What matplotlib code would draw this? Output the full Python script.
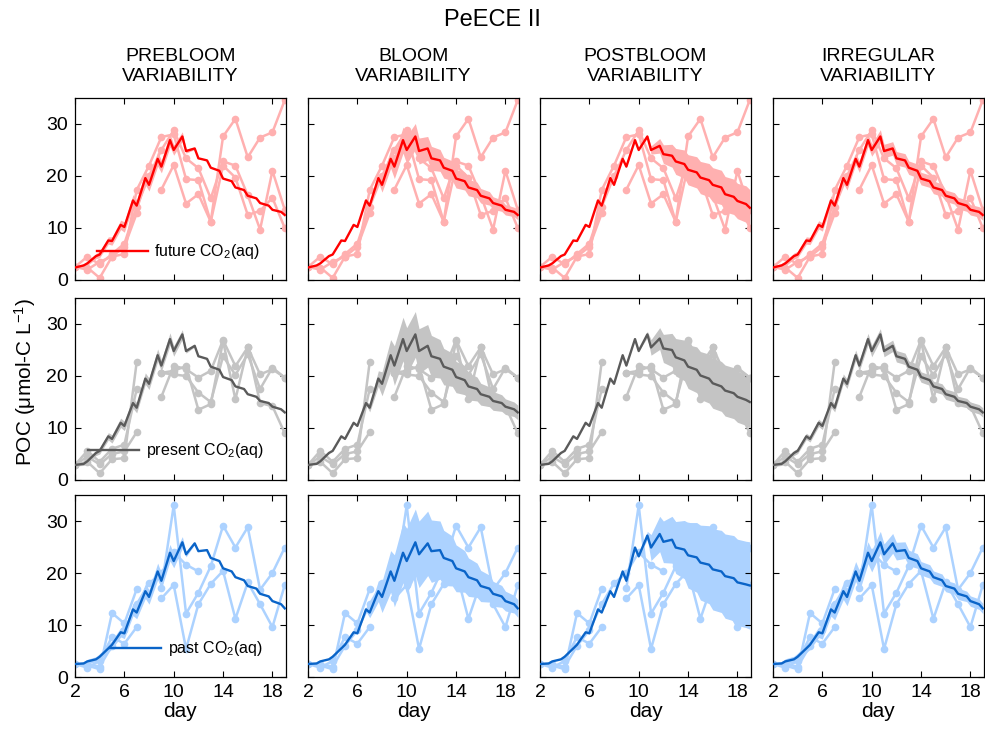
import numpy as np
import matplotlib.pyplot as plt

plt.rcParams['font.family'] = ['Liberation Sans', 'DejaVu Sans']
plt.rcParams['mathtext.fontset'] = 'custom'
plt.rcParams['mathtext.rm'] = 'Liberation Sans'
plt.rcParams['mathtext.it'] = 'Liberation Sans'

nan = np.nan

columns = ['PREBLOOM\nVARIABILITY', 'BLOOM\nVARIABILITY',
           'POSTBLOOM\nVARIABILITY', 'IRREGULAR\nVARIABILITY']
scenarios = ['future', 'present', 'past']

# measured POC, one list per mesocosm, days 2..19
obs_days = [2, 3, 4, 5, 6, 7, 8, 9, 10, 11, 12, 13, 14, 15, 16, 17, 18, 19]
future_obs = [
    [2.5, 2.4, 0.4, 4.5, 6.4, 12.8, nan, 17.4, 22.1, 14.7, 16.5, 11.2, 27.6, 31.0, 23.6, 27.4, 28.4, 34.6],
    [2.5, 4.5, 3.0, 5.0, 7.0, 14.1, 20.0, 25.0, 28.8, 23.4, 21.5, 15.7, 22.8, 22.0, 16.3, 9.7, 21.0, 13.5],
    [2.5, 2.0, 3.5, 4.5, 5.0, 17.3, 22.0, 27.5, 28.0, 19.4, 19.2, 11.2, 22.0, 19.7, 12.5, 13.3, 15.8, 10.0],
]
present_obs = [
    [2.9, 5.6, 3.5, 6.0, 6.8, 17.5, nan, 16.0, 22.0, 21.3, 19.7, 21.0, 26.9, 21.9, 25.5, 20.3, 21.3, 19.7],
    [2.9, 3.5, 1.3, 4.0, 4.2, 22.7, nan, 20.6, 20.3, 20.0, 16.8, 15.0, 23.8, 20.2, 24.2, 17.5, 21.6, 19.7],
    [2.9, 4.5, 3.0, 5.0, 5.5, 9.2, nan, 20.6, 21.0, 21.9, 13.5, 14.6, 26.7, 15.5, 25.5, 14.8, 14.2, 9.0],
]
past_obs = [
    [2.5, 2.2, 1.5, 12.3, 10.3, 16.9, nan, 17.1, 33.0, 12.2, 16.2, 21.3, 29.1, 24.9, 28.8, 16.8, 20.0, 24.9],
    [2.5, 1.8, 3.1, 7.7, 6.4, 9.6, nan, 15.1, 17.7, 5.4, 14.0, 17.9, 20.4, 11.2, 18.2, 14.0, 9.6, 17.7],
    [2.5, 2.5, 2.0, 6.0, 9.0, 14.0, 18.0, 20.0, 24.0, 21.6, 20.3, nan, nan, nan, nan, nan, nan, nan],
]

# model output: night minimum (day) and afternoon maximum (day + 0.7)
model_days = [2, 2.7, 3, 3.7, 4, 4.7, 5, 5.7, 6, 6.7, 7, 7.7, 8, 8.7, 9, 9.7, 10, 10.7,
              11, 11.7, 12, 12.7, 13, 13.7, 14, 14.7, 15, 15.7, 16, 16.7, 17, 17.7, 18, 18.7, 19]

future_model = [2.4, 2.8, 3.2, 4.6, 4.9, 7.6, 7.5, 10.6, 10.2, 15.3, 14.3, 19.6, 18.3, 23.3,
                21.8, 26.9, 25.0, 27.6, 24.8, 25.3, 23.4, 23.0, 21.6, 21.0, 19.5, 19.0, 17.8,
                17.3, 16.2, 15.7, 14.8, 14.3, 13.5, 13.1, 12.5]
present_model = [2.9, 3.1, 3.6, 5.2, 5.6, 8.4, 7.9, 11.0, 10.4, 14.8, 13.9, 19.5, 18.5, 24.0,
                 22.0, 27.1, 24.8, 28.0, 24.8, 25.8, 23.8, 23.3, 21.8, 21.2, 19.8, 19.2, 18.0,
                 17.5, 16.5, 16.0, 15.2, 14.8, 14.1, 13.6, 13.0]
past_model = [2.5, 2.6, 3.0, 3.4, 3.9, 5.5, 6.2, 8.6, 8.4, 13.0, 12.4, 16.5, 15.4, 20.3,
              18.5, 23.9, 22.3, 25.9, 23.6, 25.7, 24.2, 24.4, 22.9, 22.3, 20.9, 20.3, 19.2,
              18.6, 17.5, 17.0, 16.0, 15.5, 14.6, 14.0, 13.2]

# postbloom runs drift apart from the others after the bloom
future_model_post = [2.4, 2.8, 3.2, 4.6, 4.9, 7.6, 7.5, 10.6, 10.2, 15.3, 14.3, 19.6, 18.3, 23.3,
                     21.8, 26.9, 25.0, 27.6, 25.0, 25.8, 24.2, 23.9, 22.8, 22.3, 21.2, 20.7, 19.7,
                     19.2, 18.3, 17.8, 16.5, 16.0, 15.2, 14.6, 13.9]
present_model_post = [2.9, 3.1, 3.6, 5.2, 5.6, 8.4, 7.9, 11.0, 10.4, 14.8, 13.9, 19.5, 18.5, 24.0,
                      22.0, 27.1, 24.8, 28.0, 25.5, 27.2, 25.3, 25.0, 23.6, 23.0, 21.8, 21.2, 20.1,
                      19.5, 18.6, 18.0, 17.2, 16.7, 16.0, 15.4, 15.0]
past_model_post = [2.5, 2.6, 3.0, 3.4, 3.9, 5.5, 6.2, 8.6, 8.4, 13.0, 12.4, 16.5, 15.4, 20.3,
                   18.5, 24.9, 23.2, 27.2, 24.9, 27.5, 26.0, 26.4, 24.9, 24.5, 23.4, 23.0, 22.0,
                   21.6, 20.7, 20.3, 19.4, 19.0, 18.2, 17.8, 17.6]

# half-width of the model ensemble spread, one list per variability type
future_spread = [
    [0.2, 0.3, 0.4, 0.5, 0.6, 0.7, 0.8, 0.9, 1.0, 1.1, 1.1, 1.3, 1.2, 1.4, 1.2, 1.3, 1.0, 0.9,
     0.4, 0.2, 0.0, 0.0, 0.0, 0.0, 0.0, 0.0, 0.0, 0.0, 0.0, 0.0, 0.0, 0.0, 0.0, 0.0, 0.0],
    [0.0, 0.0, 0.0, 0.0, 0.0, 0.0, 0.0, 0.0, 0.0, 0.2, 0.5, 0.8, 1.4, 1.8, 2.3, 2.5, 2.7, 2.5,
     2.5, 2.3, 2.3, 2.1, 2.0, 1.9, 1.8, 1.7, 1.6, 1.5, 1.4, 1.3, 1.2, 1.1, 1.0, 0.9, 0.9],
    [0.0, 0.0, 0.0, 0.0, 0.0, 0.0, 0.0, 0.0, 0.0, 0.0, 0.0, 0.0, 0.0, 0.0, 0.0, 0.0, 0.0, 0.3,
     0.8, 1.4, 1.8, 2.2, 2.5, 2.7, 2.9, 3.0, 3.1, 3.2, 3.3, 3.3, 3.4, 3.4, 3.4, 3.5, 3.5],
    [0.3, 0.4, 0.5, 0.6, 0.6, 0.7, 0.7, 0.8, 0.8, 0.9, 0.9, 1.0, 1.0, 1.1, 1.1, 1.2, 1.2, 1.3,
     1.3, 1.3, 1.3, 1.3, 1.3, 1.3, 1.2, 1.2, 1.2, 1.2, 1.1, 1.1, 1.1, 1.1, 1.0, 1.0, 1.0],
]
present_spread = [
    [0.2, 0.3, 0.4, 0.5, 0.6, 0.7, 0.8, 0.9, 0.9, 1.0, 1.0, 1.1, 1.1, 1.2, 1.1, 1.2, 1.0, 0.9,
     0.4, 0.2, 0.0, 0.0, 0.0, 0.0, 0.0, 0.0, 0.0, 0.0, 0.0, 0.0, 0.0, 0.0, 0.0, 0.0, 0.0],
    [0.0, 0.0, 0.0, 0.0, 0.0, 0.0, 0.0, 0.0, 0.0, 0.3, 0.8, 1.5, 2.3, 3.0, 3.8, 4.2, 4.5, 4.4,
     4.3, 4.1, 4.0, 3.7, 3.5, 3.2, 3.0, 2.8, 2.6, 2.3, 2.1, 1.9, 1.8, 1.6, 1.5, 1.4, 1.4],
    [0.0, 0.0, 0.0, 0.0, 0.0, 0.0, 0.0, 0.0, 0.0, 0.0, 0.0, 0.0, 0.0, 0.0, 0.0, 0.0, 0.0, 0.6,
     1.5, 2.1, 2.7, 3.2, 3.6, 3.9, 4.2, 4.4, 4.6, 4.7, 4.8, 4.8, 4.9, 4.9, 4.9, 4.9, 4.9],
    [0.3, 0.3, 0.4, 0.5, 0.5, 0.6, 0.6, 0.7, 0.7, 0.8, 0.8, 0.9, 0.9, 1.0, 1.0, 1.1, 1.1, 1.1,
     1.1, 1.1, 1.1, 1.1, 1.1, 1.1, 1.0, 1.0, 1.0, 1.0, 1.0, 1.0, 0.9, 0.9, 0.9, 0.9, 0.9],
]
past_spread = [
    [0.2, 0.3, 0.4, 0.5, 0.6, 0.7, 0.8, 0.9, 1.0, 1.2, 1.2, 1.4, 1.4, 1.6, 1.5, 1.6, 1.3, 1.1,
     0.5, 0.2, 0.0, 0.0, 0.0, 0.0, 0.0, 0.0, 0.0, 0.0, 0.0, 0.0, 0.0, 0.0, 0.0, 0.0, 0.0],
    [0.0, 0.0, 0.0, 0.0, 0.0, 0.0, 0.0, 0.0, 0.0, 0.4, 1.0, 2.0, 3.0, 4.0, 5.0, 5.8, 6.3, 6.4,
     6.4, 6.2, 6.0, 5.6, 5.3, 4.8, 4.5, 4.0, 3.7, 3.3, 3.0, 2.6, 2.4, 2.1, 1.9, 1.7, 1.7],
    [0.0, 0.0, 0.0, 0.0, 0.0, 0.0, 0.0, 0.0, 0.0, 0.0, 0.0, 0.0, 0.0, 0.0, 0.0, 0.0, 0.0, 0.8,
     2.5, 3.4, 4.0, 4.5, 5.0, 5.6, 6.3, 6.7, 7.2, 7.5, 7.8, 7.9, 8.1, 8.2, 8.3, 8.3, 8.4],
    [0.3, 0.4, 0.5, 0.6, 0.7, 0.8, 0.9, 1.0, 1.1, 1.3, 1.4, 1.6, 1.7, 1.9, 2.0, 2.1, 2.1, 2.1,
     2.0, 1.9, 1.7, 1.6, 1.5, 1.4, 1.3, 1.3, 1.2, 1.2, 1.1, 1.1, 1.1, 1.0, 1.0, 1.0, 1.0],
]

dark = ['#ff0000', '#5a5a5a', '#0a64c8']
light = ['#ffb0b0', '#c4c4c4', '#acd2ff']

obs = [future_obs, present_obs, past_obs]
models = [future_model, present_model, past_model]
models_post = [future_model_post, present_model_post, past_model_post]
spreads = [future_spread, present_spread, past_spread]

# where the legend line starts in each row (axes fraction)
legend_xy = [(0.104, 0.154), (0.062, 0.16), (0.166, 0.154)]

fig = plt.figure(figsize=(9.85, 7.32), dpi=100)
W, H = 985.0, 732.0
lefts = [75, 308, 540, 773]
tops = [98, 298, 495]
aw, ah = 211, 182

t = np.array(model_days)
for r in range(3):
    for c in range(4):
        ax = fig.add_axes([lefts[c] / W, 1 - (tops[r] + ah) / H, aw / W, ah / H])
        model = np.array(models_post[r] if c == 2 else models[r])
        spread = np.array(spreads[r][c])
        ax.fill_between(t, model - spread, model + spread, color=light[r], lw=0, zorder=1)
        for series in obs[r]:
            ax.plot(obs_days, series, '-o', color=light[r], lw=1.8, ms=5.5, mec='none', zorder=2)
        line, = ax.plot(t, model, color=dark[r], lw=1.7, zorder=3,
                        label=scenarios[r] + ' CO$_2$(aq)')
        if c == 0:
            ax.legend(handles=[line], loc='center left', bbox_to_anchor=legend_xy[r],
                      frameon=False, borderpad=0, borderaxespad=0, handlelength=3.2,
                      handletextpad=0.4, fontsize=11.5)
        ax.set_xlim(2, 19.1)
        ax.set_ylim(0, 35)
        ax.set_xticks([2, 6, 10, 14, 18])
        ax.set_yticks([0, 10, 20, 30])
        ax.tick_params(direction='in', top=True, right=True, length=4, width=0.8,
                       labelsize=14, pad=5)
        for s in ax.spines.values():
            s.set_linewidth(0.9)
        if c > 0:
            ax.set_yticklabels([])
        if r < 2:
            ax.set_xticklabels([])
        else:
            ax.set_xlabel('day', fontsize=15, labelpad=1)
        if r == 0:
            ax.set_title(columns[c], fontsize=14, pad=12, linespacing=1.25)

fig.text(492 / W, 1 - 20 / H, 'PeECE II', ha='center', va='center', fontsize=17)
fig.text(25 / W, 1 - 382 / H, r'POC ($\mathregular{\mu}$mol-C L$^{-1}$)', rotation=90,
         ha='center', va='center', fontsize=15)

fig.savefig('out.png', dpi=100)
